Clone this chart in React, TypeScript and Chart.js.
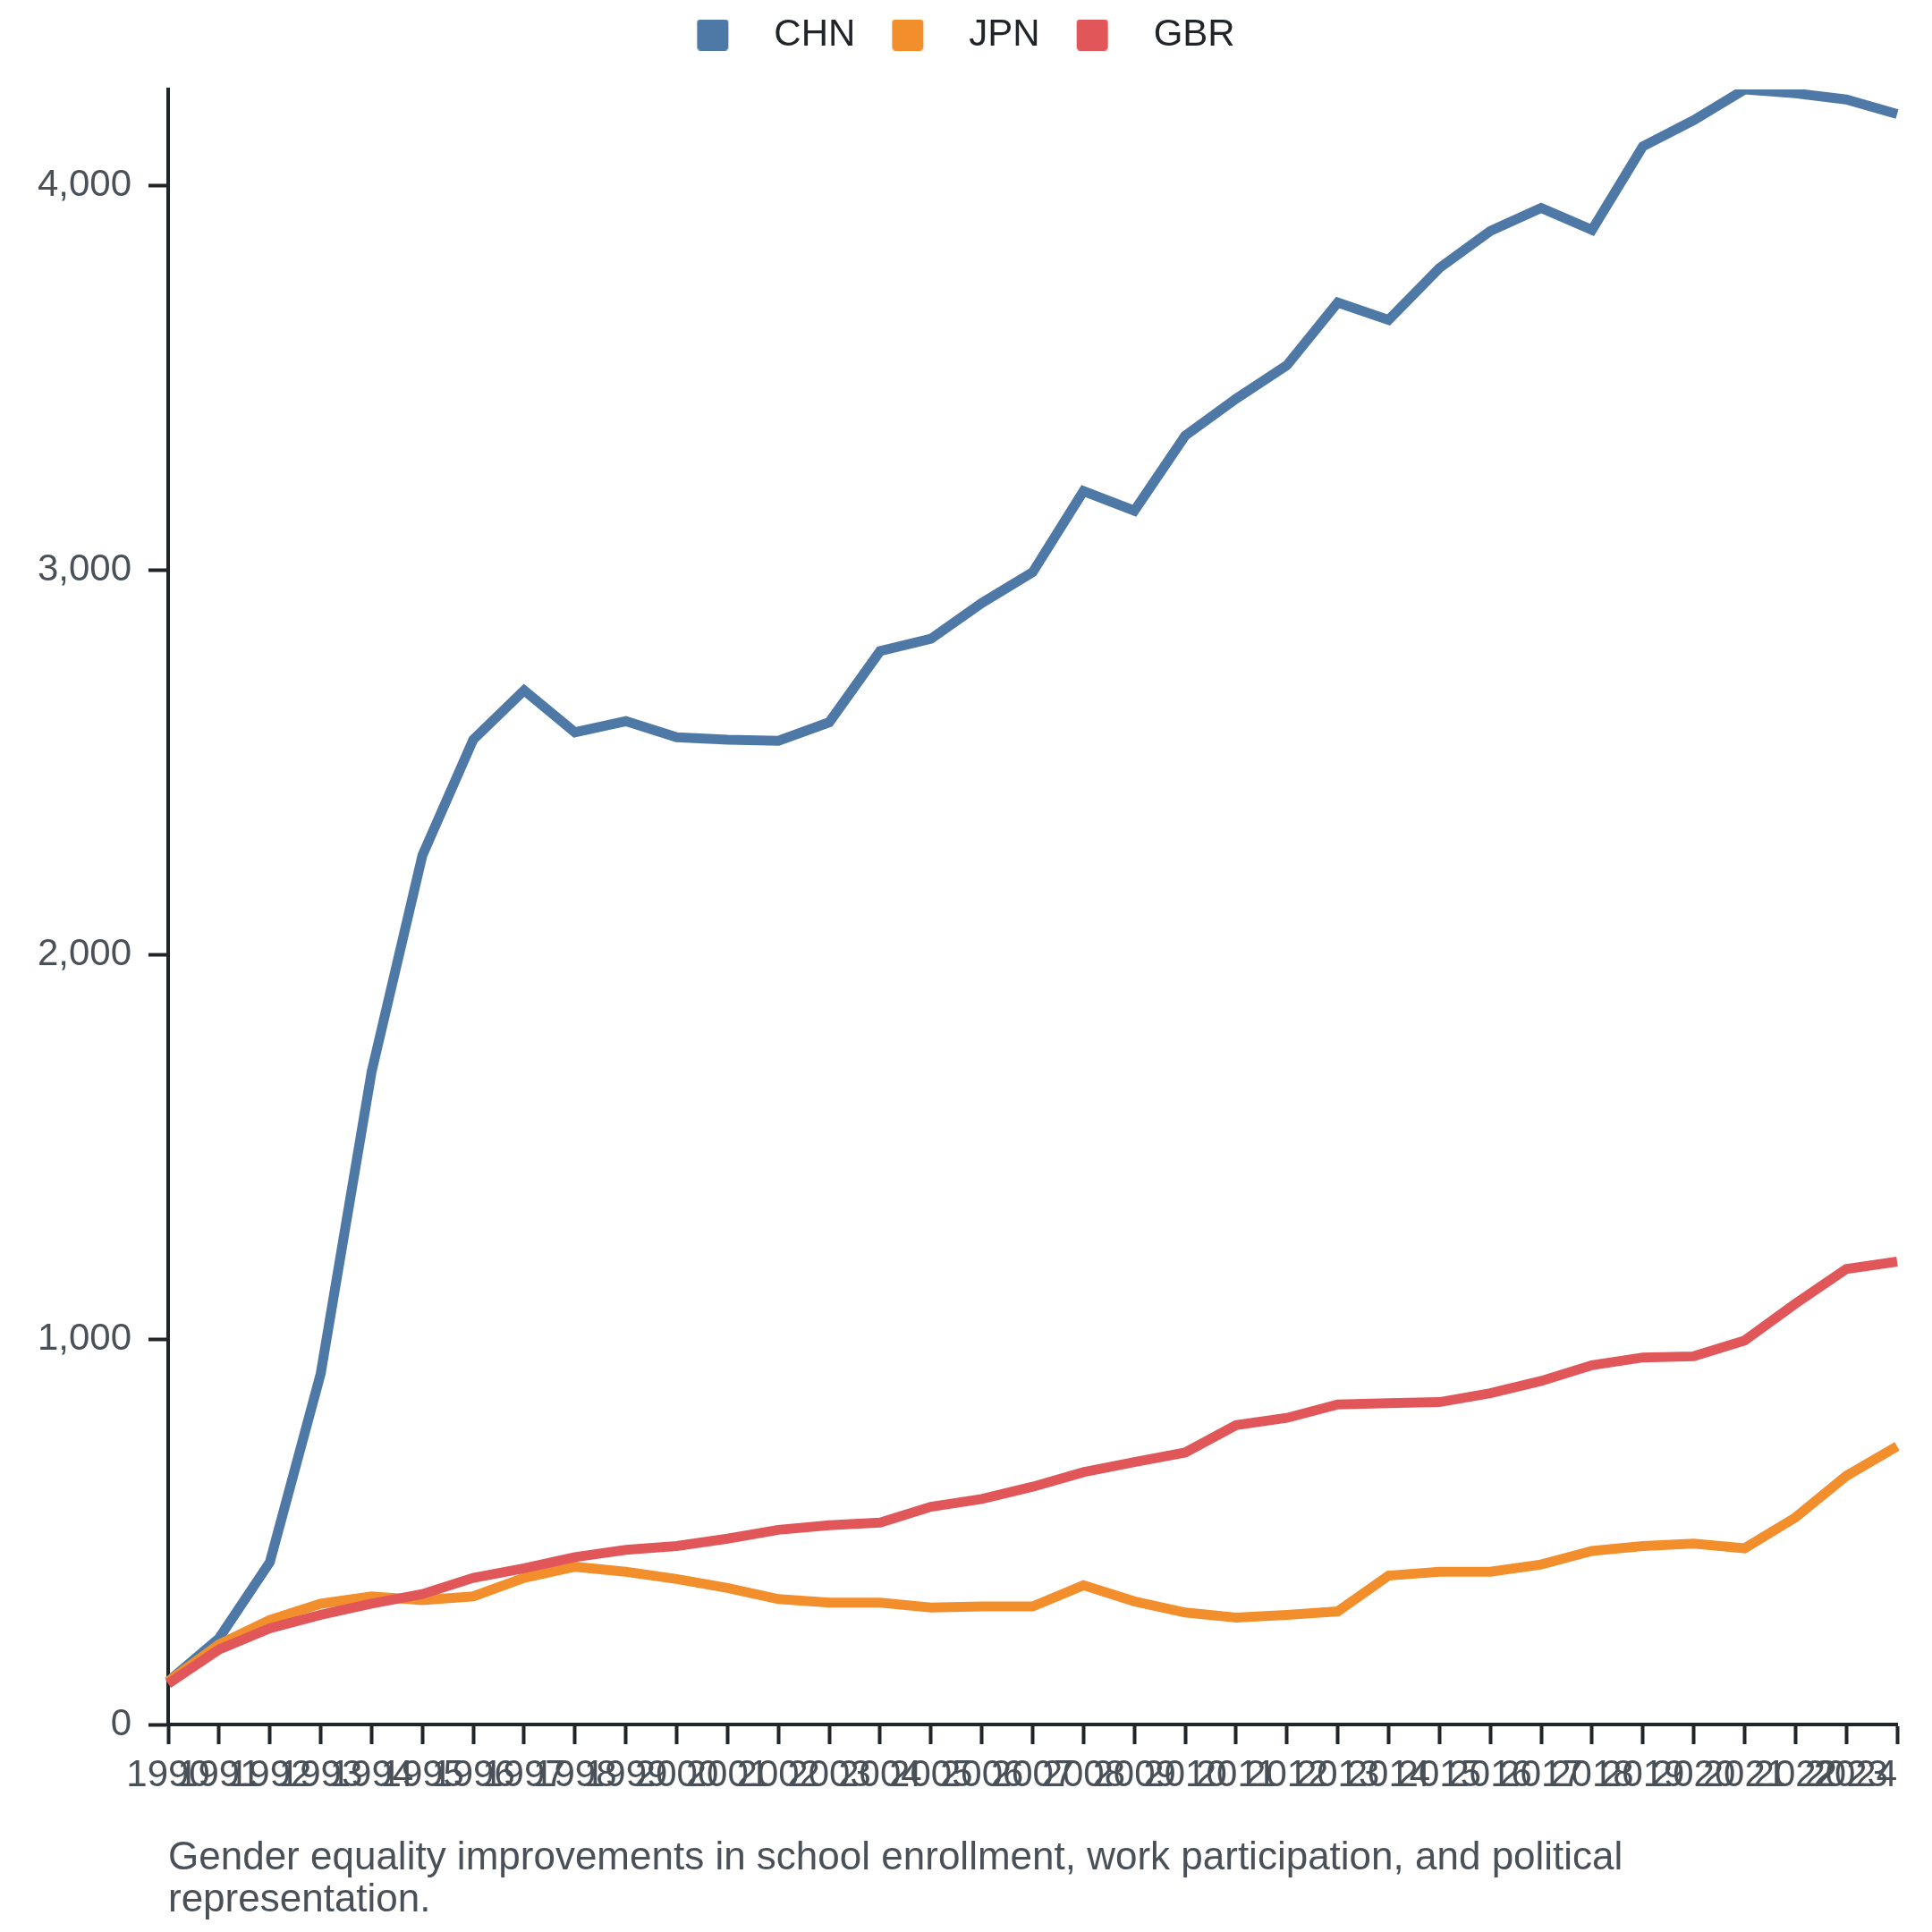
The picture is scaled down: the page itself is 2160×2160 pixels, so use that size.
import { useEffect, useRef } from 'react';
import { Chart, registerables } from 'chart.js';

Chart.register(...registerables);

const YEARS = [
  '1990', '1991', '1992', '1993', '1994', '1995', '1996', '1997', '1998', '1999',
  '2000', '2001', '2002', '2003', '2004', '2005', '2006', '2007', '2008', '2009',
  '2010', '2011', '2012', '2013', '2014', '2015', '2016', '2017', '2018', '2019',
  '2020', '2021', '2022', '2023', '2024',
];

const CHN = [
  112, 224, 422, 912, 1696, 2259, 2560, 2688, 2579, 2608,
  2566, 2560, 2557, 2605, 2790, 2822, 2915, 2995, 3206, 3155,
  3350, 3446, 3533, 3696, 3651, 3786, 3882, 3942, 3885, 4102,
  4170, 4250, 4240, 4224, 4186,
];

const JPN = [
  112, 208, 272, 314, 333, 323, 333, 381, 410, 397,
  378, 355, 326, 317, 317, 304, 307, 307, 362, 320,
  291, 278, 285, 294, 387, 397, 397, 416, 451, 464,
  470, 458, 538, 646, 723,
];

const GBR = [
  106, 195, 250, 285, 314, 339, 381, 406, 435, 454,
  464, 483, 506, 518, 525, 566, 586, 618, 656, 682,
  707, 778, 797, 832, 835, 838, 861, 893, 934, 954,
  957, 998, 1094, 1184, 1203,
];

const SERIES = ['CHN', 'JPN', 'GBR'];
const COLORS = ['#4e79a7', '#f28e2b', '#e15759'];
const Y_TICKS = [0, 1000, 2000, 3000, 4000];

const CAPTION =
  'Gender equality improvements in school enrollment, work participation, and political representation.';

const FONT = "'Liberation Sans', Arial, Helvetica, sans-serif";
const INK = '#212529';
const MUTED = '#495057';

// legend swatch: blank lead-in, then a rounded square
function swatch(color: string) {
  const c = document.createElement('canvas');
  c.width = 96;
  c.height = 35;
  const g = c.getContext('2d')!;
  const x = 31, w = 35, h = 35, r = 4;
  g.fillStyle = color;
  g.beginPath();
  g.moveTo(x + r, 0);
  g.lineTo(x + w - r, 0);
  g.quadraticCurveTo(x + w, 0, x + w, r);
  g.lineTo(x + w, h - r);
  g.quadraticCurveTo(x + w, h, x + w - r, h);
  g.lineTo(x + r, h);
  g.quadraticCurveTo(x, h, x, h - r);
  g.lineTo(x, r);
  g.quadraticCurveTo(x, 0, x + r, 0);
  g.closePath();
  g.fill();
  return c;
}

const legendSpacer = {
  id: 'legendSpacer',
  beforeLayout(chart: any) {
    const legend = chart.legend;
    if (legend && !legend._spaced) {
      const fit = legend.fit.bind(legend);
      legend.fit = () => {
        fit();
        legend.height = 92;
      };
      legend._spaced = true;
    }
  },
};

const caption = {
  id: 'caption',
  afterDraw(chart: any) {
    const { ctx, chartArea } = chart;
    ctx.save();
    ctx.font = `44px ${FONT}`;
    ctx.fillStyle = MUTED;
    ctx.textAlign = 'left';
    ctx.textBaseline = 'alphabetic';
    const words = CAPTION.split(' ');
    const lines: string[] = [];
    let line = '';
    for (const w of words) {
      const test = line ? line + ' ' + w : w;
      if (ctx.measureText(test).width > 1700 && line) {
        lines.push(line);
        line = w;
      } else {
        line = test;
      }
    }
    if (line) lines.push(line);
    lines.forEach((l, i) => ctx.fillText(l, chartArea.left, chartArea.bottom + 162 + i * 47));
    ctx.restore();
  },
};

function LineChart() {
  const ref = useRef<HTMLCanvasElement>(null);
  const chartRef = useRef<Chart | null>(null);

  useEffect(() => {
    if (!ref.current) return;
    const ctx = ref.current.getContext('2d');
    if (!ctx) return;
    const values = [CHN, JPN, GBR];
    const boxes = COLORS.map(swatch);

    chartRef.current = new Chart(ctx, {
      type: 'line',
      data: {
        labels: YEARS,
        datasets: SERIES.map((name, i) => ({
          label: name,
          data: values[i],
          borderColor: COLORS[i],
          backgroundColor: COLORS[i],
          borderWidth: 11,
          borderJoinStyle: 'miter' as const,
          pointRadius: 0,
          pointHoverRadius: 0,
          tension: 0,
          order: SERIES.length - i,
        })),
      },
      options: {
        animation: false,
        responsive: true,
        maintainAspectRatio: false,
        devicePixelRatio: 1,
        layout: { padding: { left: 0, right: 31, top: 0, bottom: 144 } },
        plugins: {
          tooltip: { enabled: false },
          legend: {
            position: 'top',
            align: 'center',
            labels: {
              usePointStyle: true,
              pointStyleWidth: 96,
              boxHeight: 35,
              padding: 10,
              color: INK,
              font: { family: FONT, size: 42 },
              generateLabels: (chart: any) =>
                Chart.defaults.plugins.legend.labels
                  .generateLabels(chart)
                  .sort((a: any, b: any) => a.datasetIndex - b.datasetIndex)
                  .map((item: any) => ({ ...item, pointStyle: boxes[item.datasetIndex] })),
            },
          },
        },
        scales: {
          x: {
            type: 'category',
            offset: false,
            grid: {
              display: true,
              drawOnChartArea: false,
              drawTicks: true,
              tickLength: 22,
              tickWidth: 4,
              tickColor: INK,
            },
            border: { display: true, color: INK, width: 4 },
            ticks: {
              autoSkip: false,
              maxRotation: 0,
              minRotation: 0,
              padding: 10,
              color: MUTED,
              font: { family: FONT, size: 42 },
            },
            afterFit: (scale: any) => {
              scale.height = 80;
              scale.paddingRight = 0;
              // last year label sits flush against the axis end
              if (!scale._flushEnd) {
                const compute = scale._computeLabelItems.bind(scale);
                scale._computeLabelItems = (area: any) => {
                  const items = compute(area);
                  const last = items[items.length - 1];
                  if (last) last.options = { ...last.options, textAlign: 'right' };
                  return items;
                };
                scale._flushEnd = true;
              }
            },
          },
          y: {
            min: 0,
            max: Math.max(...CHN),
            grid: {
              display: true,
              drawOnChartArea: false,
              drawTicks: true,
              tickLength: 22,
              tickWidth: 4,
              tickColor: INK,
            },
            border: { display: true, color: INK, width: 4 },
            ticks: {
              padding: 19,
              color: MUTED,
              font: { family: FONT, size: 42 },
            },
            afterBuildTicks: (scale: any) => {
              scale.ticks = Y_TICKS.map((value) => ({ value }));
            },
            afterFit: (scale: any) => {
              scale.width = 180;
            },
          },
        },
      },
      plugins: [legendSpacer, caption],
    });

    return () => {
      chartRef.current?.destroy();
      chartRef.current = null;
    };
  }, []);

  return (
    <div style={{ width: 2144, height: 2144, position: 'relative' }}>
      <canvas ref={ref} />
    </div>
  );
}

export default function App() {
  return <LineChart />;
}
